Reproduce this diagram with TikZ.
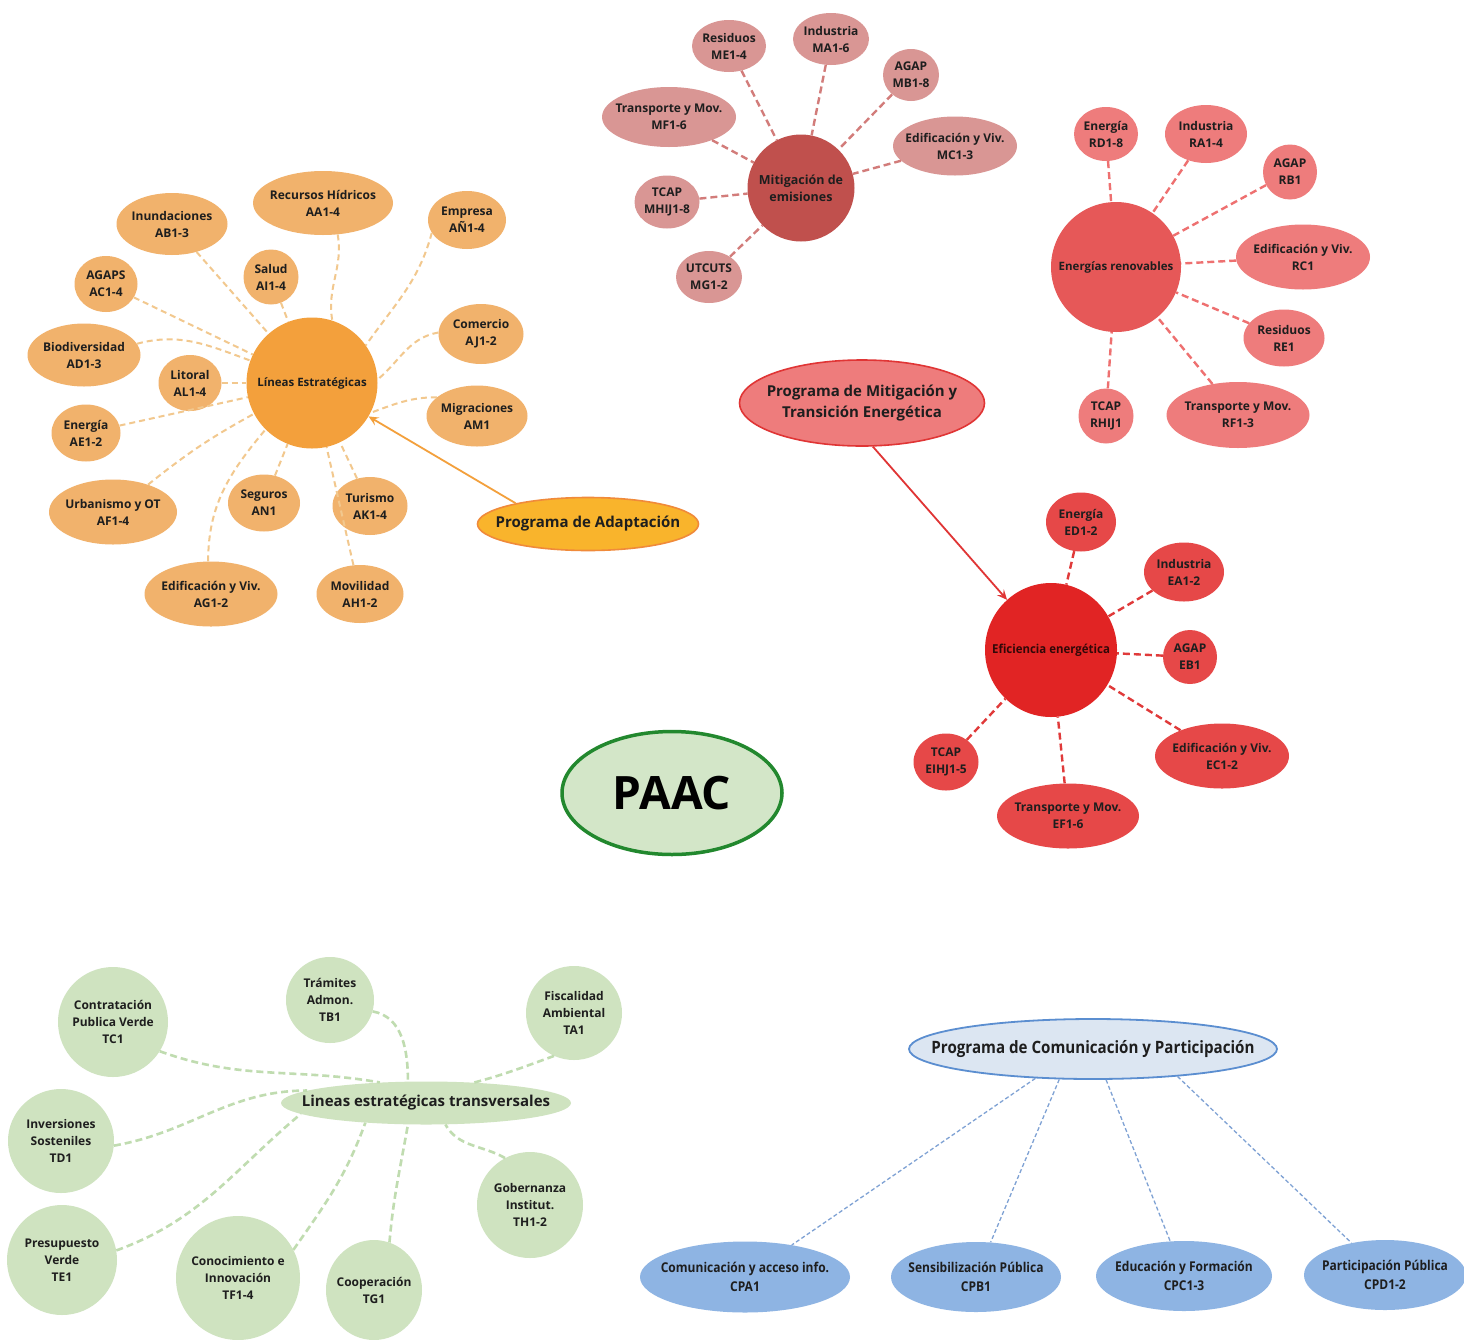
\documentclass[tikz,border=0pt]{standalone}
\usepackage{fontspec}
\setmainfont{Open Sans}
\newfontfamily\condfont{Open Sans}[FakeStretch=0.89]
\newfontfamily\semicond{Open Sans}[FakeStretch=0.93]
\usetikzlibrary{shapes.geometric,arrows.meta}
\definecolor{ocen}{HTML}{F3A03C}
\definecolor{oleafc}{HTML}{F1B26C}
\definecolor{olinec}{HTML}{F2C88E}
\definecolor{adapfill}{HTML}{F9B42C}
\definecolor{adapdraw}{HTML}{F08A3A}
\definecolor{mcen}{HTML}{C0504D}
\definecolor{mleafc}{HTML}{D99694}
\definecolor{mlinec}{HTML}{D27C7A}
\definecolor{rcen}{HTML}{E65858}
\definecolor{rleafc}{HTML}{EE7C7C}
\definecolor{rlinec}{HTML}{EE7070}
\definecolor{pmfill}{HTML}{EE7C7C}
\definecolor{pmdraw}{HTML}{E03535}
\definecolor{efcen}{HTML}{E12424}
\definecolor{efleafc}{HTML}{E64848}
\definecolor{eflinec}{HTML}{E03A3A}
\definecolor{eftext}{HTML}{320808}
\definecolor{paacfill}{HTML}{D3E6C8}
\definecolor{paacdraw}{HTML}{22882E}
\definecolor{gleafc}{HTML}{CFE3C0}
\definecolor{glinec}{HTML}{C0DCB0}
\definecolor{btopfill}{HTML}{DCE6F2}
\definecolor{btopdraw}{HTML}{5B8ED0}
\definecolor{bleafc}{HTML}{8EB4E3}
\definecolor{blinec}{HTML}{7FA2D4}
\definecolor{txt}{HTML}{1E1E1E}
\tikzset{
  bub/.style={ellipse, inner sep=0pt},
  lab/.style={align=center, text=txt, inner sep=0pt, font=\fontsize{12}{17}\selectfont\bfseries},
  blab/.style={lab, font=\condfont\fontsize{13.5}{19}\selectfont\bfseries},
  t/.style={label={[lab]center:{#1}}},
  tb/.style={label={[blab]center:{#1}}},
  oleaf/.style={bub, fill=oleafc},
  mleaf/.style={bub, fill=mleafc},
  rleaf/.style={bub, fill=rleafc},
  efleaf/.style={bub, fill=efleafc},
  gleaf/.style={bub, fill=gleafc},
  bleaf/.style={bub, fill=bleafc},
  sz/.style 2 args={minimum width=#1, minimum height=#2},
  oline/.style={draw=olinec, line width=2pt, dash pattern=on 6pt off 4pt},
  mline/.style={draw=mlinec, line width=2.4pt, dash pattern=on 7pt off 4pt},
  rline/.style={draw=rlinec, line width=2.4pt, dash pattern=on 7pt off 4pt},
  efline/.style={draw=eflinec, line width=2.4pt, dash pattern=on 7pt off 4pt},
  gline/.style={draw=glinec, line width=2.6pt, dash pattern=on 7pt off 4pt},
  bline/.style={draw=blinec, line width=1.3pt, dash pattern=on 4pt off 2.5pt},
}
\begin{document}
\begin{tikzpicture}[x=1pt, y=-1pt]
\useasboundingbox[fill=white] (0,0) rectangle (1464,1339);

% ---------------- Adaptation cluster ----------------
\node[bub, fill=ocen, sz={131}{131}, label={[lab, font=\fontsize{11.5}{15}\selectfont\bfseries]center:{Líneas Estratégicas}}] (L) at (312,383) {};
\node[oleaf, sz={140}{64}, t={Recursos Hídricos\\AA1-4}] (AA) at (323,203) {};
\node[oleaf, sz={111}{62}, t={Inundaciones\\AB1-3}] (AB) at (172,224) {};
\node[oleaf, sz={78}{58}, t={Empresa\\AÑ1-4}] (AN) at (467,220) {};
\node[oleaf, sz={55}{55}, t={Salud\\AI1-4}] (AI) at (271,277) {};
\node[oleaf, sz={63}{56}, t={AGAPS\\AC1-4}] (AC) at (106,284) {};
\node[oleaf, sz={85}{60}, t={Comercio\\AJ1-2}] (AJ) at (481,334) {};
\node[oleaf, sz={113}{63}, t={Biodiversidad\\AD1-3}] (AD) at (84,355) {};
\node[oleaf, sz={63}{56}, t={Litoral\\AL1-4}] (AL) at (190,383) {};
\node[oleaf, sz={101}{61}, t={Migraciones\\AM1}] (AM) at (477,416) {};
\node[oleaf, sz={69}{57}, t={Energía\\AE1-2}] (AE) at (86,433) {};
\node[oleaf, sz={128}{65}, t={Urbanismo y OT\\AF1-4}] (AF) at (113,512) {};
\node[oleaf, sz={72}{57}, t={Seguros\\AN1}] (ANS) at (264,503) {};
\node[oleaf, sz={75}{58}, t={Turismo\\AK1-4}] (AK) at (370,506) {};
\node[oleaf, sz={133}{65}, t={Edificación y Viv.\\AG1-2}] (AG) at (211,594) {};
\node[oleaf, sz={87}{58}, t={Movilidad\\AH1-2}] (AH) at (360,594) {};
\node[bub, fill=adapfill, draw=adapdraw, line width=1.6pt, sz={221}{53}, label={[lab, font=\fontsize{15}{18}\selectfont\bfseries]center:{Programa de Adaptación}}] (PA) at (588,524) {};

\draw[oline] (AA.-65) to[out=-80,in=100] (L.72);
\draw[oline] (AB) -- (L);
\draw[oline] (AN.200) to[out=-105,in=55] (L.35);
\draw[oline] (AI) -- (L);
\draw[oline] (AC) -- (L);
\draw[oline] (AJ.178) to[out=190,in=40] (L.3);
\draw[oline] (AD.12) to[out=15,in=160] (L.160);
\draw[oline] (AL) -- (L);
\draw[oline] (AM.155) to[out=180,in=20] (L.-27);
\draw[oline] (AE) -- (L);
\draw[oline] (AF) to[bend left=5] (L);
\draw[oline] (ANS) -- (L);
\draw[oline] (AK) -- (L);
\draw[oline] (AG.95) to[out=90,in=-130] (L.-135);
\draw[oline] (AH) -- (L);
\draw[draw=ocen, line width=1.8pt, -{Stealth[length=10pt,width=9pt,inset=4pt]}] (PA.164) -- (L);

% ---------------- Mitigation cluster ----------------
\node[bub, fill=mcen, sz={107}{107}, label={[lab, font=\fontsize{12.5}{17}\selectfont\bfseries]center:{Mitigación de\\emisiones}}] (M) at (801,188) {};
\node[mleaf, sz={74}{52}, t={Residuos\\ME1-4}] (ME) at (729,46) {};
\node[mleaf, sz={76}{52}, t={Industria\\MA1-6}] (MA) at (831,39) {};
\node[mleaf, sz={56}{52}, t={AGAP\\MB1-8}] (MB) at (911,75) {};
\node[mleaf, sz={134}{60}, t={Transporte y Mov.\\MF1-6}] (MF) at (669,117) {};
\node[mleaf, sz={124}{59}, t={Edificación y Viv.\\MC1-3}] (MC) at (955,146) {};
\node[mleaf, sz={65}{53}, t={TCAP\\MHIJ1-8}] (MH) at (667,202) {};
\node[mleaf, sz={66}{52}, t={UTCUTS\\MG1-2}] (MG) at (709,277) {};
\foreach \n in {ME,MA,MB,MF,MC,MH,MG} \draw[mline] (\n) -- (M);

% ---------------- Renewables cluster ----------------
\node[bub, fill=rcen, sz={130}{130}, label={[lab, font=\fontsize{11.5}{15}\selectfont\bfseries]center:{Energías renovables}}] (R) at (1116,267) {};
\node[rleaf, sz={64}{54}, t={Energía\\RD1-8}] (RD) at (1106,134) {};
\node[rleaf, sz={82}{58}, t={Industria\\RA1-4}] (RA) at (1206,134) {};
\node[rleaf, sz={54}{55}, t={AGAP\\RB1}] (RB) at (1290,172) {};
\node[rleaf, sz={134}{65}, t={Edificación y Viv.\\RC1}] (RC) at (1303,257) {};
\node[rleaf, sz={81}{57}, t={Residuos\\RE1}] (RE) at (1284,338) {};
\node[rleaf, sz={55}{55}, t={TCAP\\RHIJ1}] (RH) at (1106,416) {};
\node[rleaf, sz={143}{66}, t={Transporte y Mov.\\RF1-3}] (RF) at (1238,415) {};
\foreach \n in {RD,RA,RB,RC,RE,RH,RF} \draw[rline] (\n) -- (R);

% ---------------- Mitigation programme ----------------
\node[bub, fill=pmfill, draw=pmdraw, line width=1.6pt, sz={245}{86}, label={[lab, font=\fontsize{15}{21}\selectfont\bfseries]center:{Programa de Mitigación y\\Transición Energética}}] (PM) at (862,403) {};

% ---------------- Efficiency cluster ----------------
\node[bub, fill=efcen, sz={132}{134}, label={[lab, text=eftext, font=\semicond\fontsize{12.3}{15}\selectfont\bfseries]center:{Eficiencia energética}}] (EF) at (1051,650) {};
\node[efleaf, sz={70}{59}, t={Energía\\ED1-2}] (ED) at (1081,522) {};
\node[efleaf, sz={80}{59}, t={Industria\\EA1-2}] (EA) at (1184,572) {};
\node[efleaf, sz={54}{54}, t={AGAP\\EB1}] (EB) at (1190,657) {};
\node[efleaf, sz={134}{65}, t={Edificación y Viv.\\EC1-2}] (EC) at (1222,756) {};
\node[efleaf, sz={142}{65}, t={Transporte y Mov.\\EF1-6}] (EFT) at (1068,816) {};
\node[efleaf, sz={65}{57}, t={TCAP\\EIHJ1-5}] (EI) at (946,762) {};
\foreach \n in {ED,EA,EB,EC,EFT,EI} \draw[efline] (\n) -- (EF);
\draw[draw=pmdraw, line width=1.8pt, -{Stealth[length=10pt,width=9pt,inset=4pt]}] (PM.-76) -- (EF);

% ---------------- PAAC ----------------
\node[bub, fill=paacfill, draw=paacdraw, line width=3.5pt, sz={220}{123}, label={[lab, text=black, font=\fontsize{46}{50}\selectfont\bfseries]center:{PAAC}}] (PAAC) at (672,793) {};

% ---------------- Transversal cluster ----------------
\node[bub, fill=gleafc, sz={290}{43}, label={[lab, font=\fontsize{15}{19}\selectfont\bfseries]center:{Lineas estratégicas transversales}}] (G) at (426,1103) {};
\node[gleaf, sz={110}{110}, t={Contratación\\Publica Verde\\TC1}] (TC) at (113,1022) {};
\node[gleaf, sz={88}{86}, t={Trámites\\Admon.\\TB1}] (TB) at (330,1000) {};
\node[gleaf, sz={96}{94}, t={Fiscalidad\\Ambiental\\TA1}] (TA) at (574,1013) {};
\node[gleaf, sz={106}{104}, t={Inversiones\\Sosteniles\\TD1}] (TD) at (61,1141) {};
\node[gleaf, sz={106}{106}, t={Gobernanza\\Institut.\\TH1-2}] (TH) at (530,1205) {};
\node[gleaf, sz={110}{110}, t={Presupuesto\\Verde\\TE1}] (TE) at (62,1260) {};
\node[gleaf, sz={124}{124}, t={Conocimiento e\\Innovación\\TF1-4}] (TF) at (238,1278) {};
\node[gleaf, sz={96}{100}, t={Cooperación\\TG1}] (TG) at (374,1290) {};
\draw[gline] (TC.-32) to[out=-20,in=170] (G.156);
\draw[gline] (TB.-15) to[out=-10,in=90] (G.130);
\draw[gline] (TA.245) to[out=200,in=15] (G.23);
\draw[gline] (TD.-5) to[out=10,in=180] (G.174);
\draw[gline] (TE.10) to[out=20,in=220] (G.185);
\draw[gline] (TF.27) to[out=55,in=250] (G.198);
\draw[gline] (TG.72) to[out=85,in=260] (G.230);
\draw[gline] (TH.118) to[out=150,in=-60] (G.-48);

% ---------------- Communication cluster ----------------
\node[bub, fill=btopfill, draw=btopdraw, line width=1.8pt, sz={368}{60}, label={[lab, font=\condfont\fontsize{17}{20}\selectfont\bfseries]center:{Programa de Comunicación y Participación}}] (B) at (1093,1049) {};
\node[bleaf, sz={210}{71}, tb={Comunicación y acceso info.\\CPA1}] (CA) at (745,1277) {};
\node[bleaf, sz={170}{70}, tb={Sensibilización Pública\\CPB1}] (CB) at (976,1277) {};
\node[bleaf, sz={176}{70}, tb={Educación y Formación\\CPC1-3}] (CC) at (1184,1276) {};
\node[bleaf, sz={162}{70}, tb={Participación Pública\\CPD1-2}] (CD) at (1385,1275) {};
\draw[bline] (B.207) -- (CA);
\draw[bline] (B.222) -- (CB);
\draw[bline] (B.293) -- (CC);
\draw[bline] (B.342) -- (CD);
\end{tikzpicture}
\end{document}
